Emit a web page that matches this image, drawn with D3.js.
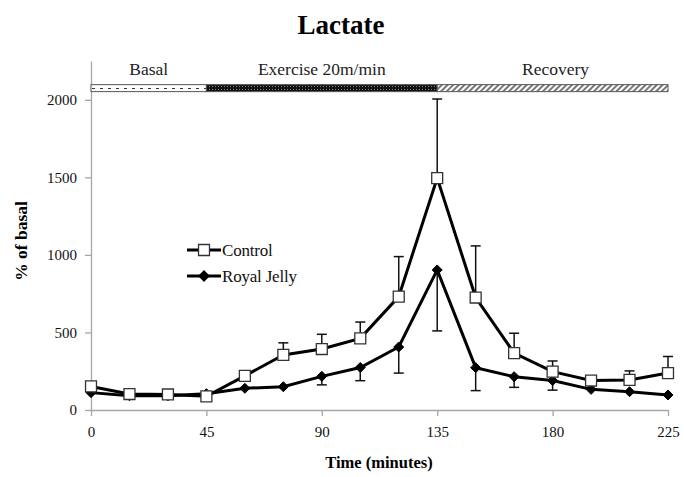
<!DOCTYPE html>
<html>
<head>
<meta charset="utf-8">
<script src="https://cdn.jsdelivr.net/npm/d3@7"></script>
<style>
  body { margin: 0; background: #fff; }
  svg text { font-family: "Liberation Serif", "Times New Roman", serif; }
</style>
</head>
<body>
<div id="chart"></div>
<script>
// data
var times = [0, 15, 30, 45, 60, 75, 90, 105, 120, 135, 150, 165, 180, 195, 210, 225];
var control = [152, 103, 100, 88, 220, 355, 393, 462, 731, 1495, 725, 367, 247, 190, 194, 238];
var controlErr = [0, 0, 0, 0, 0, 78, 95, 105, 258, 510, 333, 128, 69, 25, 58, 107];
var royal = [112, 92, 92, 105, 140, 150, 217, 274, 406, 903, 273, 215, 190, 133, 118, 97];
var royalErr = [0, 0, 0, 0, 0, 0, 55, 85, 168, 393, 148, 69, 62, 0, 0, 0];
var xTicks = [0, 45, 90, 135, 180, 225];
var yTicks = [0, 500, 1000, 1500, 2000];
var phases = [
  {label: "Basal", start: 0, end: 45, fill: "url(#basal)"},
  {label: "Exercise 20m/min", start: 45, end: 135, fill: "url(#exercise)"},
  {label: "Recovery", start: 135, end: 225, fill: "url(#recovery)"}
];

var W = 684, H = 477;
var margin = {top: 61, right: 16, bottom: 67, left: 91},
    width = W - margin.left - margin.right,
    height = H - margin.top - margin.bottom;

var svg = d3.select("#chart").append("svg")
    .attr("width", W)
    .attr("height", H);

// patterns for the phase bar
var defs = svg.append("defs");
var p1 = defs.append("pattern").attr("id", "basal")
  .attr("patternUnits", "userSpaceOnUse").attr("width", 8).attr("height", 6);
p1.append("rect").attr("width", 8).attr("height", 6).attr("fill", "#fff");
p1.append("rect").attr("x", 1).attr("y", 3).attr("width", 3).attr("height", 1).attr("fill", "#333");

var p2 = defs.append("pattern").attr("id", "exercise")
  .attr("patternUnits", "userSpaceOnUse").attr("width", 3).attr("height", 3);
p2.append("rect").attr("width", 3).attr("height", 3).attr("fill", "#111");
p2.append("rect").attr("x", 1).attr("y", 1).attr("width", 1).attr("height", 1).attr("fill", "#888");

var p3 = defs.append("pattern").attr("id", "recovery")
  .attr("patternUnits", "userSpaceOnUse").attr("width", 4).attr("height", 4)
  .attr("patternTransform", "rotate(45)");
p3.append("rect").attr("width", 4).attr("height", 4).attr("fill", "#fff");
p3.append("rect").attr("width", 2).attr("height", 4).attr("fill", "#777");

var chart = svg.append("g")
  .attr("transform", "translate(" + margin.left + "," + margin.top + ")");

var x = d3.scaleLinear().domain([0, 225]).range([0, width]);
var y = d3.scaleLinear().domain([0, 2250]).range([height, 0]);

// title
svg.append("text")
  .attr("x", 341).attr("y", 34)
  .attr("text-anchor", "middle")
  .style("font-size", "27px").style("font-weight", "bold")
  .text("Lactate");

// axes
var xAxis = chart.append("g")
  .attr("transform", "translate(0," + height + ")")
  .call(d3.axisBottom(x).tickValues(xTicks).tickSize(6).tickPadding(10).tickSizeOuter(0));
var yAxis = chart.append("g")
  .call(d3.axisLeft(y).tickValues(yTicks).tickFormat(d3.format("d")).tickSize(6).tickPadding(8).tickSizeOuter(0));
[xAxis, yAxis].forEach(function(a) {
  a.attr("font-family", "Liberation Serif").attr("font-size", 15);
  a.selectAll("path, line").attr("stroke", "#a6a6a6").attr("stroke-width", 1.3);
  a.selectAll("text").attr("fill", "#111");
});

// axis labels
svg.append("text")
  .attr("x", 379).attr("y", 468)
  .attr("text-anchor", "middle")
  .style("font-size", "16.5px").style("font-weight", "bold")
  .text("Time (minutes)");
svg.append("text")
  .attr("transform", "translate(27,241) rotate(-90)")
  .attr("text-anchor", "middle")
  .style("font-size", "17.5px").style("font-weight", "bold")
  .text("% of basal");

// phase bar
var barY = y(2075);
chart.selectAll(".phase").data(phases).enter().append("rect")
  .attr("x", d => x(d.start))
  .attr("y", barY - 3.5)
  .attr("width", d => x(d.end) - x(d.start))
  .attr("height", 7)
  .attr("fill", d => d.fill)
  .attr("stroke", "#555").attr("stroke-width", 1);
chart.selectAll(".phaseLabel").data(phases).enter().append("text")
  .attr("x", d => x((d.start + d.end) / 2) + (d.start === 135 ? 3 : 0))
  .attr("y", barY - 13)
  .attr("text-anchor", "middle")
  .style("font-size", "17.5px").attr("fill", "#222")
  .text(d => d.label);

var ctrlData = times.map((t, i) => ({t: t, v: control[i], e: controlErr[i]}));
var rjData = times.map((t, i) => ({t: t, v: royal[i], e: royalErr[i]}));

// error bars: control up, royal jelly down
function errorBars(data, dir) {
  var g = chart.append("g").attr("stroke", "#111").attr("stroke-width", 1.5);
  data.filter(d => d.e > 0).forEach(d => {
    var yEnd = y(d.v + dir * d.e);
    g.append("line").attr("x1", x(d.t)).attr("x2", x(d.t)).attr("y1", y(d.v)).attr("y2", yEnd);
    g.append("line").attr("x1", x(d.t) - 5).attr("x2", x(d.t) + 5).attr("y1", yEnd).attr("y2", yEnd);
  });
}
errorBars(ctrlData, 1);
errorBars(rjData, -1);

var line = d3.line().x(d => x(d.t)).y(d => y(d.v));
chart.append("path").datum(ctrlData)
  .attr("fill", "none").attr("stroke", "#000").attr("stroke-width", 3).attr("d", line);
chart.append("path").datum(rjData)
  .attr("fill", "none").attr("stroke", "#000").attr("stroke-width", 3).attr("d", line);

// square-ish diamond (d3's own diamond is too tall)
var rhombus = {
  draw: function(ctx, size) {
    var r = Math.sqrt(size / 2);
    ctx.moveTo(0, -r); ctx.lineTo(r, 0); ctx.lineTo(0, r); ctx.lineTo(-r, 0); ctx.closePath();
  }
};
var square = d3.symbol().type(d3.symbolSquare).size(120);
var diamond = d3.symbol().type(rhombus).size(50);

chart.selectAll(".rj").data(rjData).enter().append("path")
  .attr("transform", d => "translate(" + x(d.t) + "," + y(d.v) + ")")
  .attr("d", diamond).attr("fill", "#000").attr("stroke", "#000").attr("stroke-width", 1);
chart.selectAll(".ctrl").data(ctrlData).enter().append("path")
  .attr("transform", d => "translate(" + x(d.t) + "," + y(d.v) + ")")
  .attr("d", square).attr("fill", "#fff").attr("stroke", "#333").attr("stroke-width", 1.3);

// legend
var legend = svg.append("g").attr("transform", "translate(187,250)");
[["Control", square, "#fff"], ["Royal Jelly", diamond, "#000"]].forEach(function(item, i) {
  var row = legend.append("g").attr("transform", "translate(0," + (i * 26) + ")");
  row.append("line").attr("x1", 0).attr("x2", 34).attr("stroke", "#000").attr("stroke-width", 3);
  row.append("path").attr("transform", "translate(17,0)").attr("d", item[1])
    .attr("fill", item[2]).attr("stroke", i === 0 ? "#333" : "#000").attr("stroke-width", 1.3);
  row.append("text").attr("x", 35).attr("y", 6)
    .style("font-size", "17px").style("letter-spacing", "-0.2px").attr("fill", "#111").text(item[0]);
});
</script>
</body>
</html>
